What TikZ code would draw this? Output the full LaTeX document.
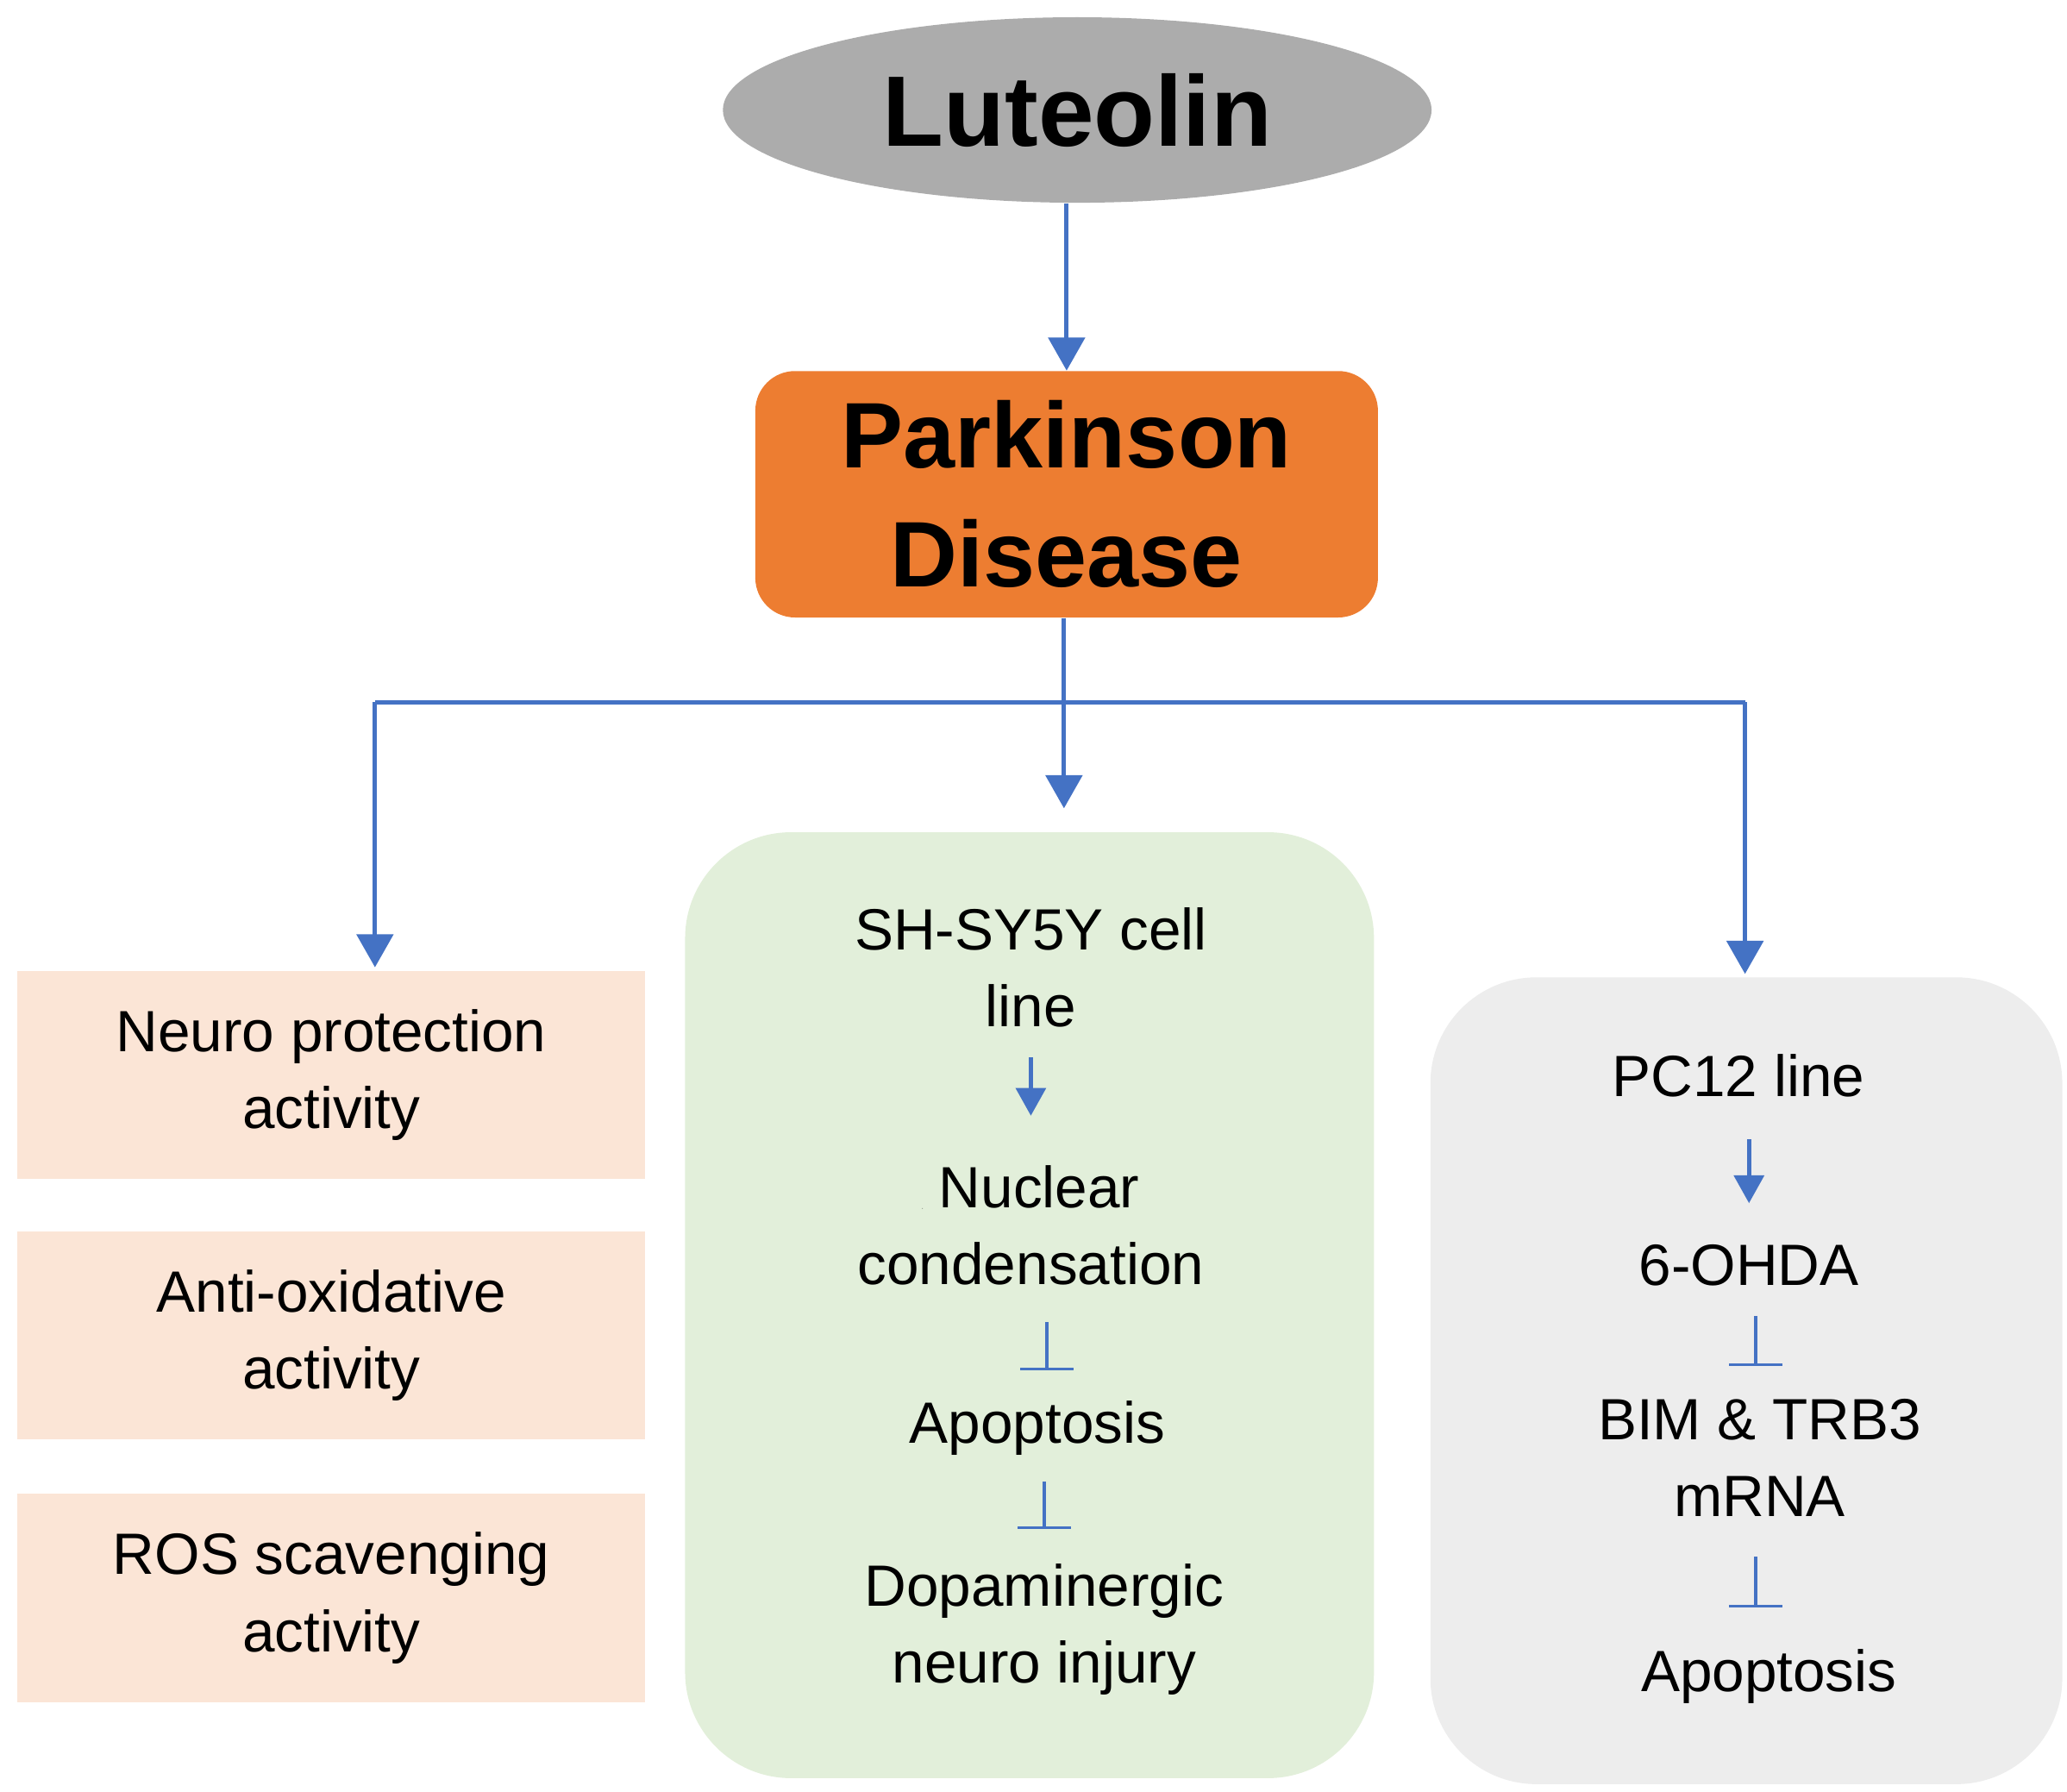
\documentclass[tikz,border=0pt]{standalone}
\usepackage{fontspec}
\setmainfont{Liberation Sans}
\usetikzlibrary{arrows.meta,shapes.geometric}
\definecolor{ab}{HTML}{4472C4}
\begin{document}
\begin{tikzpicture}[x=0.02cm,y=-0.02cm,
  conn/.style={draw=ab,line width=1.8pt},
  arr/.style={conn,-{Triangle[width=0.55cm,length=0.5cm]}},
  sarr/.style={conn,-{Triangle[width=0.45cm,length=0.42cm]}},
  txt/.style={font=\fontsize{25}{33}\selectfont,align=center,inner sep=0},
  lbox/.style={fill=orange!15!white,draw=none,minimum width=9.48cm,minimum height=3.14cm,txt}]
\useasboundingbox (0,0) rectangle (1560,1352);
\node[ellipse,fill=gray!65,minimum width=10.7cm,minimum height=2.8cm,font=\fontsize{43}{50}\bfseries\selectfont] (lut) at (813,83) {Luteolin};
\node[fill=orange!80!red!90!yellow,fill={rgb,255:red,237;green,125;blue,49},rounded corners=0.6cm,minimum width=9.4cm,minimum height=3.72cm,align=center,font=\fontsize{40}{51}\bfseries\selectfont] (pd) at (805,373) {Parkinson\\Disease};
\draw[arr] (lut.south -| 805,0) -- (pd.north -| 805,0);
\coordinate (j) at (803,530);
\node[lbox,fill={rgb,255:red,251;green,229;blue,214}] (b1) at (250,811) {Neuro protection\\activity};
\node[lbox,fill={rgb,255:red,251;green,229;blue,214}] (b2) at (250,1008) {Anti-oxidative\\activity};
\node[lbox,fill={rgb,255:red,251;green,229;blue,214}] (b3) at (250,1206) {ROS scavenging\\activity};
\node[fill={rgb,255:red,226;green,239;blue,218},rounded corners=1.6cm,minimum width=10.4cm,minimum height=14.28cm] (g) at (777,985) {};
\node[fill={rgb,255:red,237;green,237;blue,237},rounded corners=1.6cm,minimum width=9.54cm,minimum height=12.18cm] (r) at (1318,1042) {};
\draw[conn] (pd.south -| 803,0) -- (j);
\draw[arr] (j) -- (803,610);
\draw[conn] (283,530) -- (1317,530);
\draw[arr] (283,530) -- (283,730);
\draw[arr] (1317,530) -- (1317,735);
% middle
\node[txt] (m1) at (778,730) {SH-SY5Y cell\\line};
\node[txt] (m2) at (778,925) {\tikz[baseline=0]\fill (0,0.55) -- (0.5,0.55) -- (0.25,0) -- cycle;~Nuclear\\condensation};
\node[txt] (m3) at (783,1078) {Apoptosis};
\node[txt] (m4) at (788,1230) {Dopaminergic\\neuro injury};
\draw[sarr] (778,798) -- (778,842);
\draw[conn,line width=1.3pt] (790,998) -- (790,1033) (770,1033) -- (810,1033);
\draw[conn,line width=1.3pt] (788,1118) -- (788,1153) (768,1153) -- (808,1153);
% right
\node[txt] (r1) at (1312,812) {PC12 line};
\node[txt] (r2) at (1320,955) {6-OHDA};
\node[txt] (r3) at (1328,1100) {BIM \& TRB3\\mRNA};
\node[txt] (r4) at (1335,1265) {Apoptosis};
\draw[sarr] (1320,860) -- (1320,908);
\draw[conn,line width=1.3pt] (1325,993) -- (1325,1030) (1305,1030) -- (1345,1030);
\draw[conn,line width=1.3pt] (1325,1175) -- (1325,1212) (1305,1212) -- (1345,1212);
\end{tikzpicture}
\end{document}
